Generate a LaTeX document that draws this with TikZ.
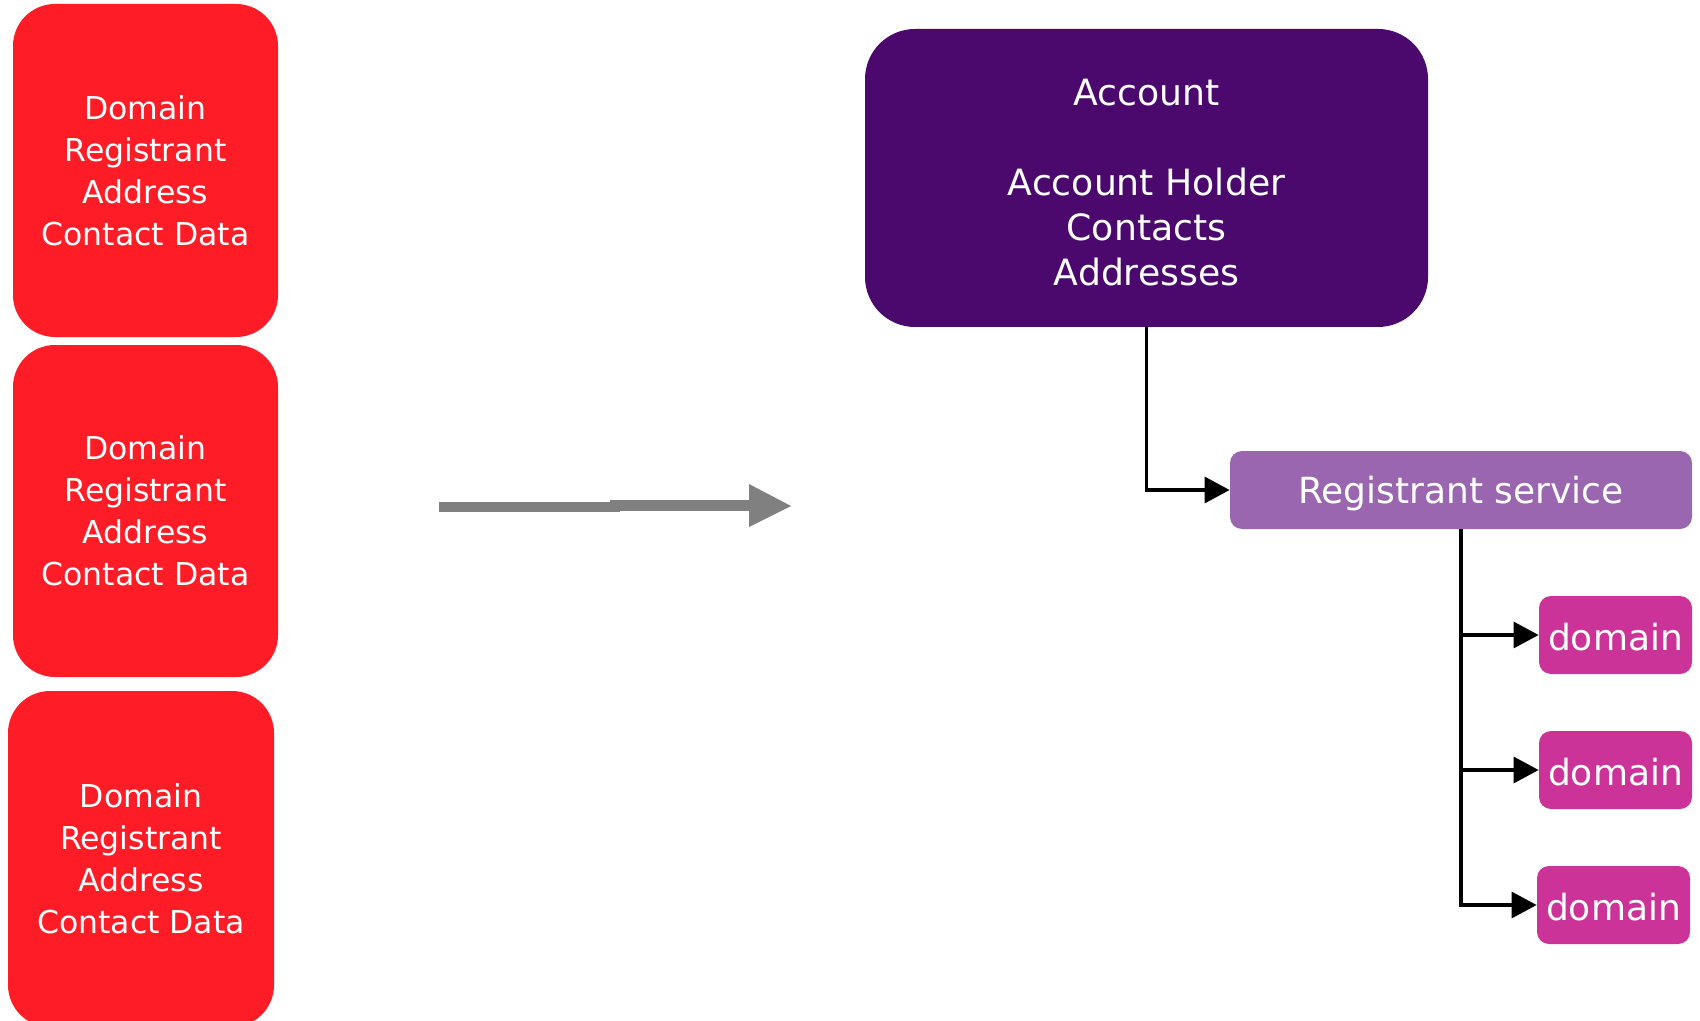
\documentclass[tikz,border=0pt]{standalone}
\usepackage{fontspec}
\setmainfont{DejaVu Sans}
\usetikzlibrary{arrows.meta}
\definecolor{recred}{RGB}{254,28,38}
\definecolor{accpurple}{RGB}{75,9,110}
\definecolor{svcpurple}{RGB}{155,102,176}
\definecolor{dommagenta}{RGB}{204,51,153}
\definecolor{flowgray}{RGB}{128,128,128}
\tikzset{
  recbox/.style={fill=recred, text=white, rounded corners=21pt, inner sep=0pt,
    align=center, font=\fontsize{15.75}{21}\selectfont},
  accbox/.style={fill=accpurple, text=white, rounded corners=25pt, inner sep=0pt,
    align=center, font=\fontsize{18.1}{22.5}\selectfont},
  svcbox/.style={fill=svcpurple, text=white, rounded corners=6pt, inner sep=0pt,
    align=center, text depth=0pt, font=\fontsize{18}{22.5}\selectfont},
  dombox/.style={fill=dommagenta, text=white, rounded corners=6pt, inner sep=0pt,
    align=center, minimum width=76.5pt, minimum height=39pt,
    text height=15.5pt, text depth=0pt,
    font=\fontsize{18}{22.5}\selectfont},
  conn/.style={draw=black, line width=1.65pt,
    -{Triangle[length=12.5pt,width=13pt]}}
}
\begin{document}
\begin{tikzpicture}[x=0.5pt,y=-0.5pt]
\useasboundingbox (0,0) rectangle (1700,1021);
\clip (0,0) rectangle (1700,1021);

% separate records on the left
\node[recbox, minimum width=132.5pt, minimum height=166.5pt] (rec1) at (145.5,170.5)
  {Domain\\Registrant\\Address\\Contact Data};
\node[recbox, minimum width=132.5pt, minimum height=166pt] (rec2) at (145.5,511)
  {Domain\\Registrant\\Address\\Contact Data};
\node[recbox, minimum width=133pt, minimum height=168pt] (rec3) at (141,859)
  {Domain\\Registrant\\Address\\Contact Data};

% transition arrow
\fill[flowgray] (439,502) rectangle (620,512);
\fill[flowgray] (610,500) rectangle (750,511);
\fill[flowgray] (749,484) -- (791,506) -- (749,527) -- cycle;

% account hierarchy
\node[accbox, minimum width=281.5pt, minimum height=149pt] (acc) at (1146.5,178)
  {\rule{0pt}{17.6pt}Account\\[22.5pt]Account Holder\\Contacts\\Addresses};
\node[svcbox, minimum width=231pt, minimum height=39pt] (svc) at (1461,490)
  {Registrant service};
\node[dombox] (d1) at (1615.5,635) {domain};
\node[dombox] (d2) at (1615.5,770) {domain};
\node[dombox] (d3) at (1613.5,905) {domain};

\draw[conn] (acc.south) |- (svc.west);
\draw[conn] (svc.south) |- (d1.west);
\draw[conn] (svc.south) |- (d2.west);
\draw[conn] (svc.south) |- (d3.west);
\end{tikzpicture}
\end{document}
